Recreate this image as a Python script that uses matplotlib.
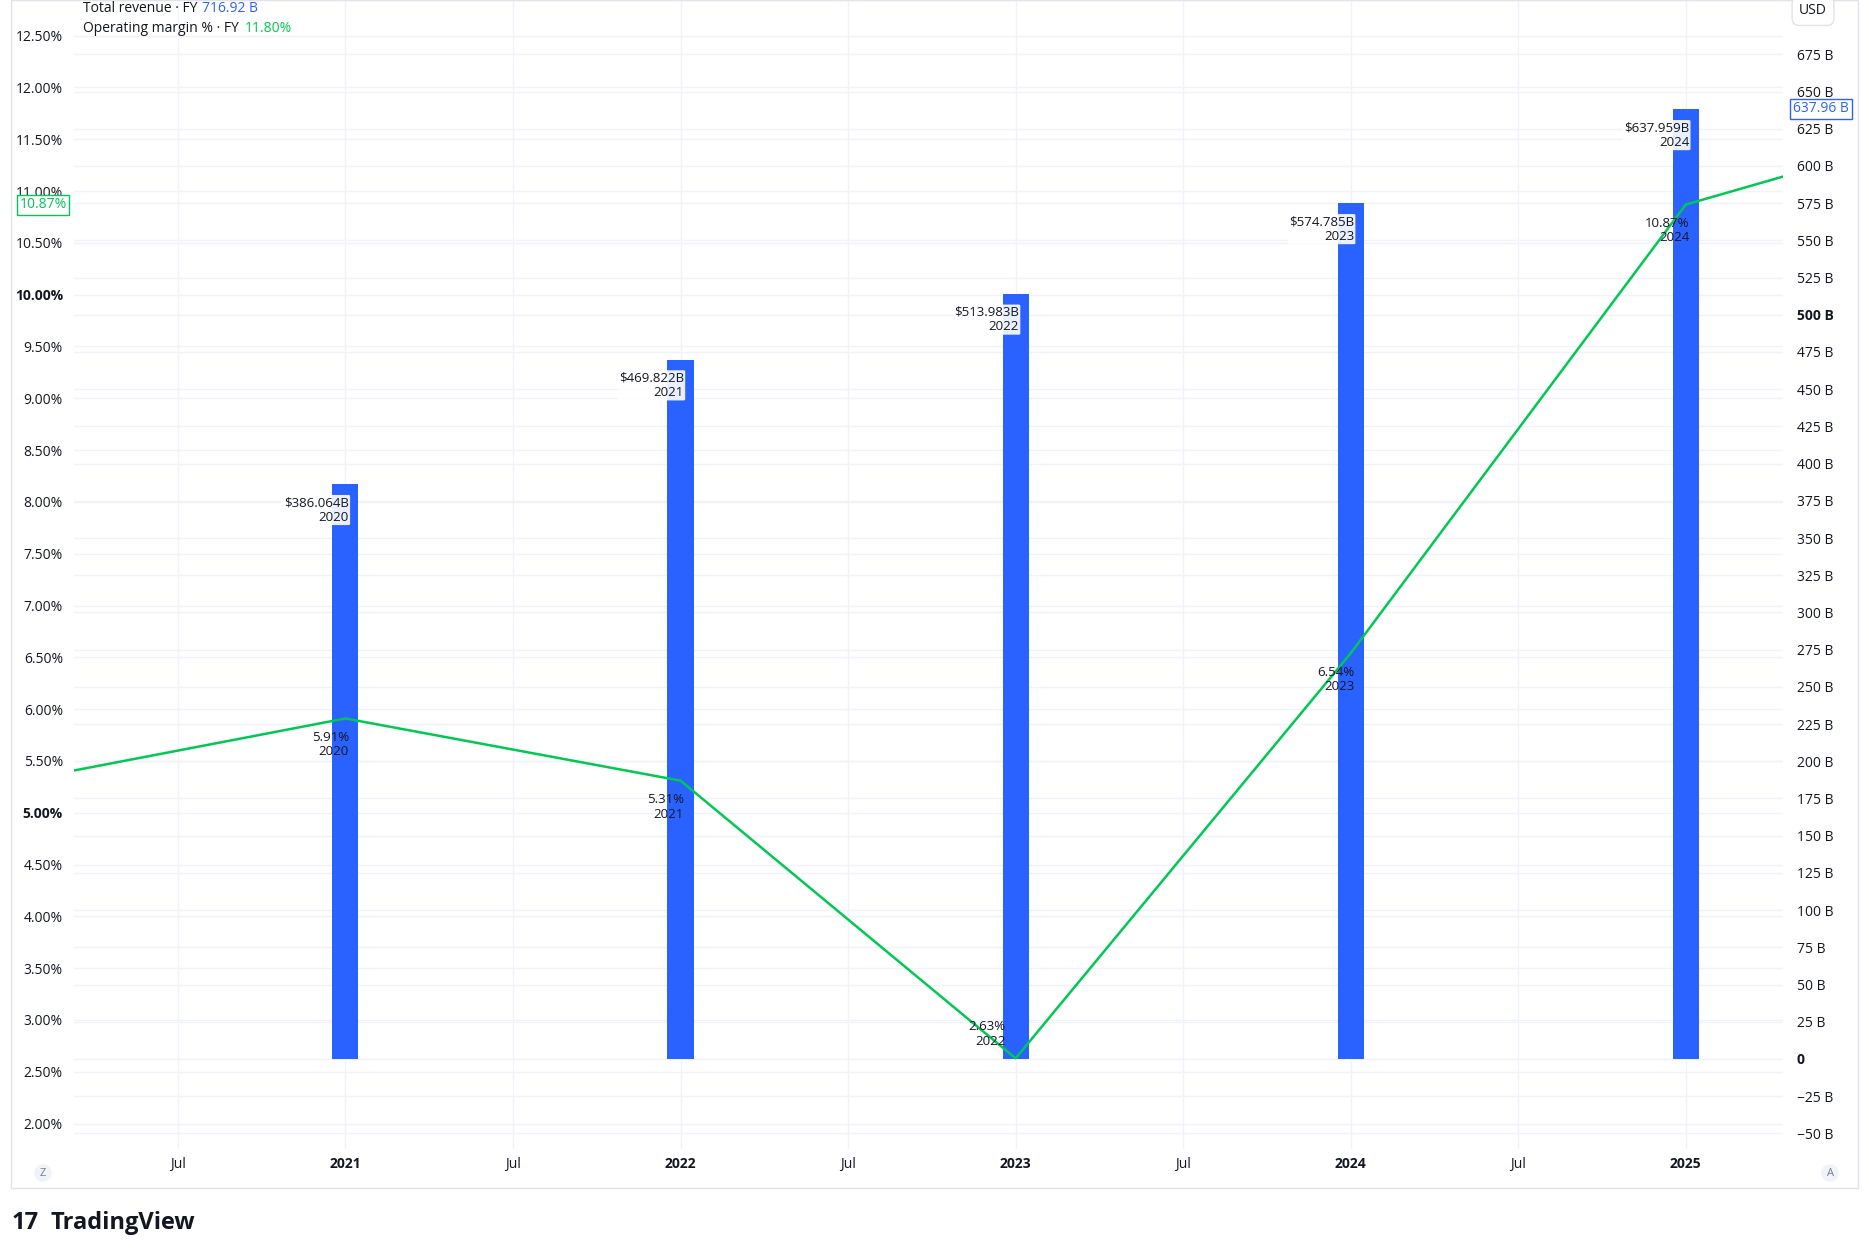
import matplotlib.pyplot as plt

plt.rcParams['font.family'] = ['Open Sans', 'DejaVu Sans']

# fiscal years and values
years = [2019, 2020, 2021, 2022, 2023, 2024, 2025]
revenue = [None, 386.064, 469.822, 513.983, 574.785, 637.959, 716.92]   # $B
margin = [5.29, 5.91, 5.31, 2.63, 6.54, 10.87, 11.80]                 # %
bar_years = [2020, 2021, 2022, 2023, 2024]

left_ticks = [2.0, 2.5, 3.0, 3.5, 4.0, 4.5, 5.0, 5.5, 6.0, 6.5, 7.0, 7.5, 8.0, 8.5,
              9.0, 9.5, 10.0, 10.5, 11.0, 11.5, 12.0, 12.5]
right_ticks = list(range(-50, 700, 25))

BLUE = '#2962ff'
GREEN = '#00c853'
GRID = '#f0f3fa'
TXT = '#131722'

W, H = 1869, 1251
fig = plt.figure(figsize=(W / 100, H / 100), dpi=100)
# plot area in pixels
x0, x1, y0, y1 = 74, 1783, 0, 1149
ax = fig.add_axes([x0 / W, 1 - y1 / H, (x1 - x0) / W, (y1 - y0) / H])
ax2 = ax.twinx()

# x as decimal year; bars/points at end of fiscal year (Jan 1 next year)
ax.set_xlim(2020.19, 2025.29)
ax.set_ylim(1.755, 12.844)
ax2.set_ylim(-60.5, 711.5)

for a in (ax, ax2):
    for s in a.spines.values():
        s.set_visible(False)
    a.tick_params(length=0)

ax.set_xticks([2020.5, 2021, 2021.5, 2022, 2022.5, 2023, 2023.5, 2024, 2024.5, 2025])
ax.set_xticklabels(['Jul', '2021', 'Jul', '2022', 'Jul', '2023', 'Jul', '2024', 'Jul', '2025'],
                   fontsize=10, color=TXT)
for lab in ax.get_xticklabels():
    if lab.get_text() != 'Jul':
        lab.set_fontweight('bold')
ax.tick_params(axis='x', pad=6)
ax.grid(True, color=GRID, lw=1)
ax.set_axisbelow(True)

ax.set_yticks(left_ticks)
ax.set_yticklabels([f'{v:.2f}%' for v in left_ticks], fontsize=10, color=TXT)
for lab, v in zip(ax.get_yticklabels(), left_ticks):
    if v in (5.0, 10.0):
        lab.set_fontweight('bold')
ax.tick_params(axis='y', pad=8)

ax2.set_yticks(right_ticks)
ax2.set_yticklabels([('%d B' % v if v != 0 else '0').replace('-', '−') for v in right_ticks],
                    fontsize=10, color=TXT, ha='left')
for lab, v in zip(ax2.get_yticklabels(), right_ticks):
    if v in (0, 500):
        lab.set_fontweight('bold')
ax2.tick_params(axis='y', pad=10)
for v in right_ticks:
    ax2.axhline(v, color=GRID, lw=1, zorder=0)

# bars (revenue) on right axis
bx = [y + 1 for y in bar_years]
bv = [revenue[years.index(y)] for y in bar_years]
ax2.bar(bx, bv, width=0.078, color=BLUE, zorder=2)
for x, v, y in zip(bx, bv, bar_years):
    ax2.text(x + 0.01, v - 8, f'${v:.3f}B\n{y}', ha='right', va='top', fontsize=9.5,
             color=TXT, linespacing=1.15, zorder=4,
             bbox=dict(boxstyle='round,pad=0.1', fc='white', ec='none', alpha=0.9))

# margin line on left axis
lx = [y + 1 for y in years]
ax3 = ax.twinx()
ax3.set_ylim(ax.get_ylim())
ax3.axis('off')
ax3.plot(lx, margin, color=GREEN, lw=1.8, zorder=3)
for x, v, y in zip(lx[1:-1], margin[1:-1], years[1:-1]):
    if v < 3:
        ax3.text(x - 0.03, v + 0.1, f'{v:.2f}%\n{y}', ha='right', va='bottom', fontsize=9.5,
                 color=TXT, linespacing=1.15, zorder=4)
    else:
        ax3.text(x + 0.01, v - 0.12, f'{v:.2f}%\n{y}', ha='right', va='top', fontsize=9.5,
                 color=TXT, linespacing=1.15, zorder=4)
ax3.set_xlim(ax.get_xlim())

# legend
fig.text(83 / W, 1 - 9 / H, 'Total revenue · FY', fontsize=10, color=TXT, va='center')
fig.text(202 / W, 1 - 9 / H, '716.92 B', fontsize=10, color=BLUE, va='center')
fig.text(83 / W, 1 - 28 / H, 'Operating margin % · FY', fontsize=10, color=TXT, va='center')
fig.text(245 / W, 1 - 28 / H, '11.80%', fontsize=10, color=GREEN, va='center')

# last value tags
fig.text(43 / W, 1 - 205 / H, '10.87%', fontsize=10, color=GREEN, ha='center', va='center',
         bbox=dict(boxstyle='square,pad=0.15', fc='white', ec=GREEN, lw=1))
fig.text(1821 / W, 1 - 109 / H, '637.96 B', fontsize=10, color=BLUE, ha='center', va='center',
         bbox=dict(boxstyle='square,pad=0.2', fc='white', ec=BLUE, lw=1))
fig.text(1813 / W, 1 - 11 / H, 'USD', fontsize=10, color=TXT, ha='center', va='center',
         bbox=dict(boxstyle='round,pad=0.5', fc='white', ec='#e0e3eb', lw=1))

# frame around chart area
fig.add_artist(plt.Rectangle((11 / W, 1 - 1188 / H), (1858 - 11) / W, 1188 / H,
                             transform=fig.transFigure, fill=False, ec='#e0e3eb', lw=1))
for xc, t in ((43, 'Z'), (1830, 'A')):
    fig.text(xc / W, 1 - 1173 / H, t, fontsize=8, color='#787b86', ha='center', va='center',
             bbox=dict(boxstyle='circle,pad=0.3', fc='#f0f3fa', ec='none'))

fig.text(12 / W, 1 - 1223 / H, '17', fontsize=17, fontweight='bold', color=TXT, va='center')
fig.text(50 / W, 1 - 1223 / H, 'TradingView', fontsize=17, fontweight='bold', color=TXT, va='center')

fig.savefig('out.png', dpi=100)
